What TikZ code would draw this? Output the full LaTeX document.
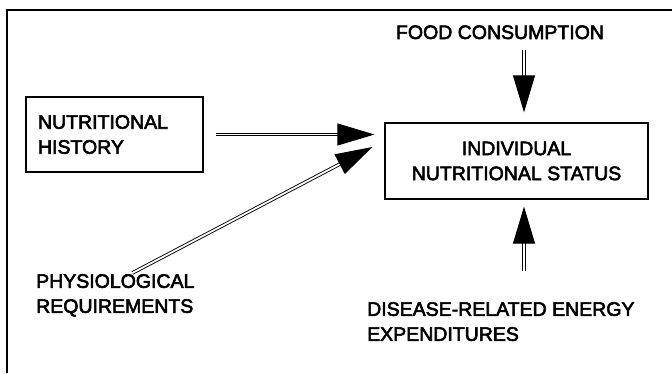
\documentclass[tikz,border=0pt]{standalone}
\usepackage{fontspec}
\setmainfont{Liberation Sans}[FakeBold=3]
\usetikzlibrary{arrows.meta}
\tikzset{
  box/.style={draw, line width=1.2pt, inner sep=0pt},
  lbl/.style={inner sep=0pt, align=left},
  flow/.style={double, double distance=1.8pt, line width=0.9pt,
    -{Triangle[length=37pt,width=22pt]}}
}
\begin{document}
\begin{tikzpicture}[x=1pt, y=-1pt, font=\fontsize{19.5pt}{25pt}\selectfont]
  \useasboundingbox (0,0) rectangle (672,373);
  \draw[line width=1.5pt] (7,373) -- (7,10) -- (672,10);
  \node[box, minimum width=177pt, minimum height=75pt, text width=153pt, align=left]
    (hist) at (114.5,134.5) {NUTRITIONAL\\HISTORY};
  \node[box, minimum width=263pt, minimum height=76pt, align=center]
    (status) at (516.5,161) {INDIVIDUAL\\NUTRITIONAL STATUS};
  \node[lbl, anchor=base] (food) at (500,39) {FOOD CONSUMPTION};
  \node[lbl, anchor=north west] (phys) at (36,274) {PHYSIOLOGICAL\\REQUIREMENTS};
  \node[lbl, anchor=north west] (disease) at (367,302) {DISEASE-RELATED ENERGY\\EXPENDITURES};
  \coordinate (fin) at ([xshift=7.5pt]status.north);
  \coordinate (din) at ([xshift=7.5pt]status.south);
  % arrows into the status box
  \draw[flow, shorten <=11pt, shorten >=10pt] (fin |- food.south) -- (fin);
  \draw[flow, shorten <=31pt, shorten >=7pt] (din |- disease.north) -- (din);
  \draw[flow, shorten <=12pt, shorten >=10pt] (hist.east) -- (status.west |- hist.east);
  \draw[flow] ([xshift=17pt,yshift=1pt]phys.north) -- ([xshift=-12pt,yshift=14pt]status.west);
\end{tikzpicture}
\end{document}
